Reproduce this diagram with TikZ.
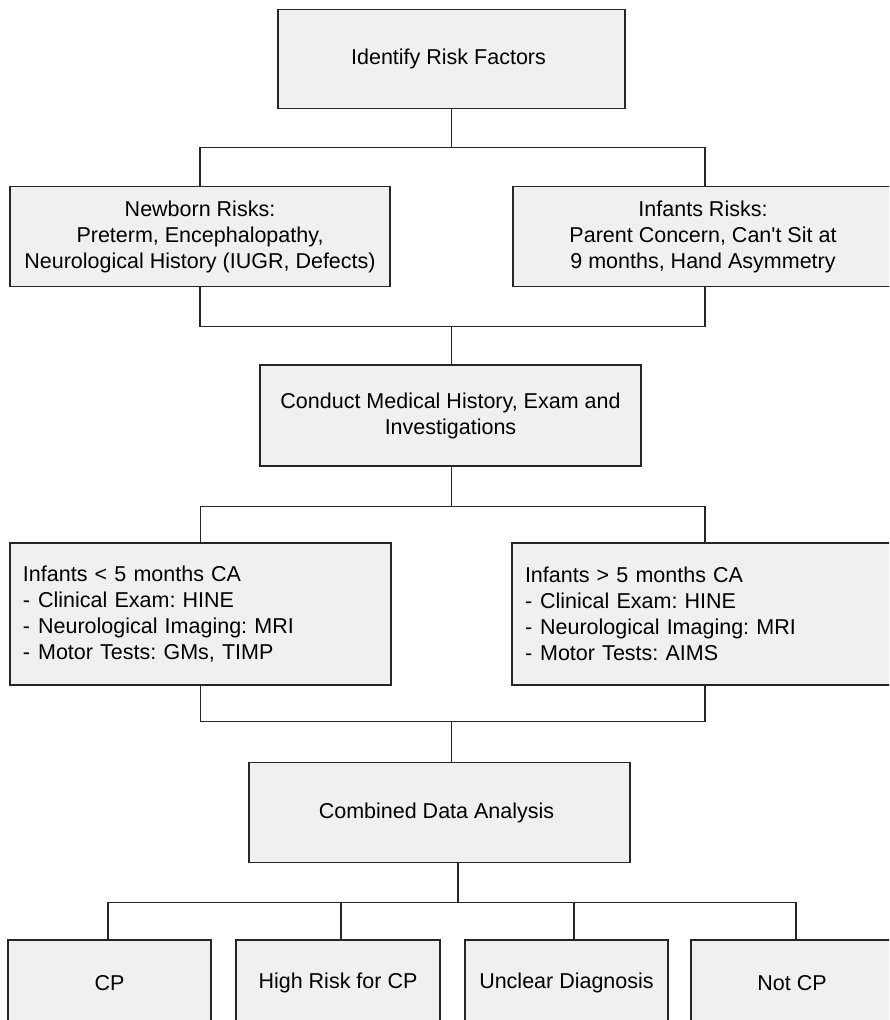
\documentclass[tikz,border=0pt]{standalone}
\usepackage{fontspec}
\setmainfont{Liberation Sans}
\frenchspacing
\tikzset{
	box/.style = {draw = black!85, line width = 1.3pt, fill = black!6, minimum height = 100pt, inner xsep = 13pt, font = \fontsize{21.5}{26}\selectfont, align = center},
	link/.style = {draw = black!85, line width = 1.1pt},
}

\begin{document}
\begin{tikzpicture}[x = 1pt, y = -1pt]
		\useasboundingbox (0,0) rectangle (889,1020);
		\clip (0,0) rectangle (889,1020);
		%
		\node (risk) [box, minimum width = 347pt, minimum height = 99pt] at (451.5,59){Identify Risk Factors
		};
		\node (newborn) [box, minimum width = 380pt] at (200,236.5){Newborn Risks:\\Preterm, Encephalopathy,\\Neurological History (IUGR, Defects)
		};
		\node (infant) [box, minimum width = 380pt] at (703,236.5){Infants Risks:\\Parent Concern, Can\textquotesingle t Sit at\\9 months, Hand Asymmetry
		};
		\node (conduct) [box, minimum width = 381pt, minimum height = 101pt] at (450.5,415.5){Conduct Medical History, Exam and\\Investigations
		};
		%
		\node (young) [box, minimum height = 142pt, text width = 355pt, align = left] at (200.5,614){Infants < 5 months CA\\
			-\hspace{0.37em}Clinical Exam: HINE\\
			-\hspace{0.37em}Neurological Imaging: MRI\\
			-\hspace{0.37em}Motor Tests: GMs, TIMP
		};
		\node (older) [box, minimum height = 142pt, text width = 354pt, align = left] at (702,614){Infants > 5 months CA\\
			-\hspace{0.37em}Clinical Exam: HINE\\
			-\hspace{0.37em}Neurological Imaging: MRI\\
			-\hspace{0.37em}Motor Tests: AIMS
		};
		\node (combined) [box, minimum width = 381pt] at (439.5,812.5){Combined Data Analysis
		};
		%
		\foreach \name/\x/\w/\txt in {cp/109.5/203/CP, highrisk/338/204/High Risk for CP, unclear/566.5/203/Unclear Diagnosis, notcp/792/202/Not CP}{
				\node (\name) [box, minimum width = \w pt, minimum height = 86pt] at (\x,983){\txt};
			}
		%
		\coordinate (j1) at (451.5,148);
		\coordinate (j2) at (451.5,325.5);
		\coordinate (j3) at (451.5,507);
		\coordinate (j4) at (451.5,721);
		\coordinate (j5) at (458,903);
		\draw [link](risk.south) -- (j1);
		\draw [link](newborn.north) --++(0,-38) -| ([xshift = 2pt]infant.north);
		\draw [link](newborn.south) --++(0,39) -| ([xshift = 2pt]infant.south);
		\draw [link](j2) -- (j2 |- conduct.north);
		\draw [link](j3 |- conduct.south) -- (j3);
		\draw [link](young.north) --++(0,-36) -| ([xshift = 3pt]older.north);
		\draw [link](young.south) --++(0,36) -| ([xshift = 3pt]older.south);
		\draw [link](j4) -- (j4 |- combined.north);
		\draw [link](j5 |- combined.south) -- (j5);
		\draw [link]([xshift = -1.5pt]cp.north) --++(0,-37) -| ([xshift = 4pt]notcp.north);
		\draw [link]([xshift = 3pt]highrisk.north) --++(0,-37);
		\draw [link]([xshift = 7.5pt]unclear.north) --++(0,-37);
	\end{tikzpicture}
\end{document}
